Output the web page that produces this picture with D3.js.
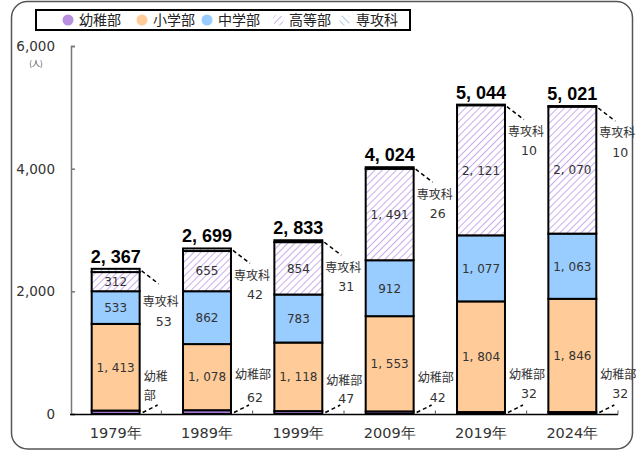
<!DOCTYPE html>
<html><head><meta charset="utf-8">
<script src="https://cdn.jsdelivr.net/npm/d3@7"></script>
<style>body{margin:0;background:#fff}svg{display:block}</style>
</head><body>
<svg id="c" width="636" height="452"></svg>
<script>
const years = ["1979年","1989年","1999年","2009年","2019年","2024年"];
const kinder = [56,62,47,42,32,32];
const elementary = [1413,1078,1118,1553,1804,1846];
const junior = [533,862,783,912,1077,1063];
const high = [312,655,854,1491,2121,2070];
const advanced = [53,42,31,26,10,10];
const totals = [2367,2699,2833,4024,5044,5021];
const seriesNames = ["幼稚部","小学部","中学部","高等部","専攻科"];
const yTicks = [0,2000,4000,6000];

const svg = d3.select("#c");
const JP = "'Noto Sans CJK JP','DejaVu Sans',sans-serif";
const NUM = "'DejaVu Sans','Liberation Sans',sans-serif";

// patterns
const defs = svg.append("defs");
function hatch(id, color, dir){
  const p = defs.append("pattern").attr("id",id).attr("patternUnits","userSpaceOnUse")
    .attr("width",5).attr("height",5).attr("patternTransform","rotate("+(dir>0?45:-45)+")");
  p.append("rect").attr("width",5).attr("height",5).attr("fill","#fff");
  p.append("line").attr("x1",0).attr("y1",0).attr("x2",0).attr("y2",5)
    .attr("stroke",color).attr("stroke-width",1.8);
}
hatch("hHigh","#c4a2ee",1);
hatch("hAdv","#a9c9e6",-1);
const fills = ["#a57ad6","#ffcc99","#99ccff","url(#hHigh)","url(#hAdv)"];
const legendFills = ["#b98fe0","#ffcc99","#99ccff","url(#hHigh)","url(#hAdv)"];

// outer frame
svg.append("rect").attr("x",11.5).attr("y",1.5).attr("width",621).attr("height",447.5)
  .attr("rx",16).attr("fill","none").attr("stroke","#555").attr("stroke-width",1.5);

// legend
svg.append("rect").attr("x",36).attr("y",10).attr("width",374).attr("height",20)
  .attr("fill","#fff").attr("stroke","#000").attr("stroke-width",2);
const legX = [68,142,207,278,345];
seriesNames.forEach((n,i)=>{
  svg.append("circle").attr("cx",legX[i]).attr("cy",20).attr("r",5.5).attr("fill",legendFills[i]);
  svg.append("text").attr("x",legX[i]+11).attr("y",20).attr("dy","0.36em")
    .attr("font-family",JP).attr("font-size",14).attr("fill","#222").text(n);
});

const x = d3.scaleBand().domain(years).range([70,618]).paddingInner(0.475).paddingOuter(0.2375);
const y = d3.scaleLinear().domain([0,6000]).range([414,46]);

// y axis
const ya = svg.append("g").attr("transform","translate(71,0)")
  .call(d3.axisRight(y).tickValues(yTicks).tickSize(4).tickFormat(""));
ya.select(".domain").attr("stroke","#777").attr("stroke-width",1.5);
ya.selectAll(".tick line").attr("stroke","#777").attr("stroke-width",1.5);
svg.selectAll(".ytl").data(yTicks).join("text").attr("class","ytl")
  .attr("x",55).attr("y",d=>y(d)).attr("dy","0.36em").attr("text-anchor","end")
  .attr("font-family",NUM).attr("font-size",13.5).attr("fill","#333")
  .text(d=>d3.format(",")(d));
svg.append("text").attr("x",36).attr("y",66).attr("text-anchor","middle")
  .attr("font-family",JP).attr("font-size",8).attr("fill","#444").text("(人)");

// stacked data
const rows = years.map((yr,i)=>({yr, v:[kinder[i],elementary[i],junior[i],high[i],advanced[i]]}));
const fmt = v => d3.format(",")(v).replace(",",", ");

rows.forEach((r,i)=>{
  let cum = 0;
  const x0 = x(r.yr), w = x.bandwidth();
  r.v.forEach((v,k)=>{
    const yb = y(cum), yt = y(cum+v);
    svg.append("rect").attr("x",x0).attr("y",yt).attr("width",w).attr("height",yb-yt)
      .attr("fill",fills[k]).attr("stroke","#000").attr("stroke-width",2);
    if(k>=1 && k<=3){
      svg.append("text").attr("x",x0+w/2).attr("y",(yb+yt)/2).attr("dy","0.36em")
        .attr("text-anchor","middle").attr("font-family",NUM).attr("font-size",12)
        .attr("fill","#333").text(fmt(v));
    }
    cum += v;
  });
  const top = y(totals[i]);
  const xr = x0 + w;
  // total label
  svg.append("text").attr("x",x0+w/2).attr("y",top-6).attr("text-anchor","middle")
    .attr("font-family","'Liberation Sans',Arial,sans-serif").attr("font-weight","bold")
    .attr("font-size",18).attr("fill","#000").text(fmt(totals[i]));
  // 専攻科 leader + label
  svg.append("line").attr("x1",xr+2).attr("y1",top+2).attr("x2",xr+19).attr("y2",top+15)
    .attr("stroke","#000").attr("stroke-width",1.5).attr("stroke-dasharray","4,3");
  const dy1 = i===0 ? 33 : 27, dy2 = i===0 ? 53 : 46;
  svg.append("text").attr("x",xr+21).attr("y",top+dy1).attr("dy","0.36em").attr("text-anchor","middle")
    .attr("font-family",JP).attr("font-size",12).attr("fill","#333").text("専攻科");
  svg.append("text").attr("x",xr+24).attr("y",top+dy2).attr("dy","0.36em").attr("text-anchor","middle")
    .attr("font-family",NUM).attr("font-size",12.5).attr("fill","#333").text(advanced[i]);
  // 幼稚部 leader + label
  const base = y(0);
  svg.append("line").attr("x1",xr+3).attr("y1",base-1.5).attr("x2",xr+18).attr("y2",base-9)
    .attr("stroke","#000").attr("stroke-width",1.5).attr("stroke-dasharray","4,3");
  if(i===0){
    svg.append("text").attr("x",xr+4).attr("y",377).attr("dy","0.36em")
      .attr("font-family",JP).attr("font-size",12).attr("fill","#333").text("幼稚");
    svg.append("text").attr("x",xr+4).attr("y",396).attr("dy","0.36em")
      .attr("font-family",JP).attr("font-size",12).attr("fill","#333").text("部");
  } else {
    const ly = [0,375,381,378,375,375][i], ny = [0,397,398,397,393,393][i];
    svg.append("text").attr("x",xr+22).attr("y",ly).attr("dy","0.36em").attr("text-anchor","middle")
      .attr("font-family",JP).attr("font-size",12).attr("fill","#333").text("幼稚部");
    svg.append("text").attr("x",xr+24).attr("y",ny).attr("dy","0.36em").attr("text-anchor","middle")
      .attr("font-family",NUM).attr("font-size",12.5).attr("fill","#333").text(kinder[i]);
  }
});

// x axis
const xa = svg.append("g").attr("transform","translate(0,414.5)");
xa.append("line").attr("x1",70).attr("x2",618).attr("stroke","#000").attr("stroke-width",1.5);
const bounds = years.map(yr=>x(yr)+x.bandwidth()/2 + x.step()/2);
xa.selectAll(".xt").data(bounds).join("line").attr("class","xt")
  .attr("x1",d=>d).attr("x2",d=>d).attr("y1",0).attr("y2",-4).attr("stroke","#555").attr("stroke-width",1);
svg.selectAll(".xl").data(years).join("text").attr("class","xl")
  .attr("x",d=>x(d)+x.bandwidth()/2).attr("y",433).attr("dy","0.36em").attr("text-anchor","middle")
  .attr("font-family",NUM).attr("font-size",14.5).attr("fill","#333").text(d=>d);
</script>
</body></html>
